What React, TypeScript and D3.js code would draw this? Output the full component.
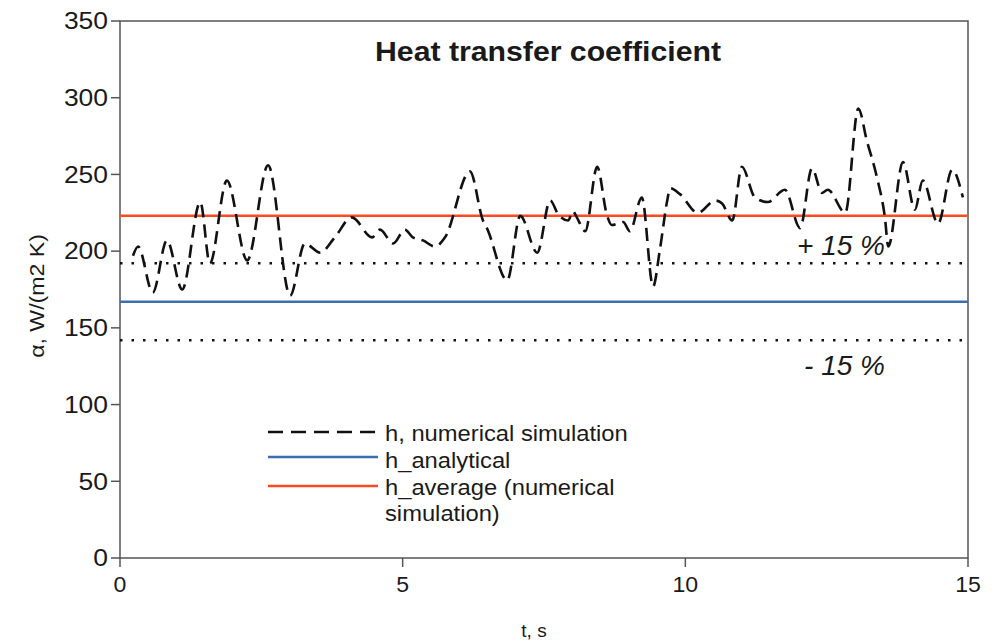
import React from "react";
import * as d3 from "d3";

const tValues = [0.23,0.32,0.58,0.83,1.10,1.42,1.59,1.89,2.25,2.62,3.01,3.27,3.54,3.80,4.10,4.46,4.60,4.83,5.04,5.18,5.36,5.57,5.75,6.19,6.42,6.49,6.85,7.08,7.38,7.61,7.75,7.93,8.01,8.08,8.23,8.44,8.61,8.70,8.90,9.02,9.23,9.43,9.55,9.68,9.73,9.91,10.22,10.53,10.65,10.83,11.00,11.23,11.46,11.76,12.03,12.24,12.42,12.52,12.83,13.06,13.21,13.39,13.53,13.59,13.85,14.06,14.20,14.47,14.72,14.91];
const hNumerical = [197,203,173,207,175,232,192,246,194,256,171,205,199,209,222,209,214,205,214,209,207,203,209,252,220,215,181,223,199,233,224,220,226,222,213,255,224,217,219,213,235,177,201,233,241,237,225,233,231,220,255,235,232,240,215,254,238,240,225,293,272,248,222,203,258,227,246,218,253,235];
const hAnalytical = 167;
const hAverage = 223;
const tolerance = 0.15;
const xTicks = [0, 5, 10, 15];
const yTicks = [0, 50, 100, 150, 200, 250, 300, 350];
const legendLabels = ["h, numerical simulation", "h_analytical", "h_average (numerical", "simulation)"];
const tolLabels = ["+ 15 %", "- 15 %"];

const FONT = "'Liberation Sans', Arial, sans-serif";
const RED = "#ff4a1f";
const BLUE = "#3d6eb0";
const AXIS = "#555";

function T(props: {
  x: number; y: number; sx?: number; size: number; anchor?: string; dy?: string;
  weight?: string; italic?: boolean; rotate?: number; children: React.ReactNode;
}) {
  const { x, y, sx = 1, size, anchor = "start", dy, weight, italic, rotate = 0, children } = props;
  return (
    <text
      transform={`translate(${x},${y}) rotate(${rotate}) scale(${sx},1)`}
      textAnchor={anchor}
      dy={dy}
      fontSize={size}
      fontWeight={weight}
      fontStyle={italic ? "italic" : undefined}
      fill="#1a1a1a"
    >
      {children}
    </text>
  );
}

export default function App() {
  const x = d3.scaleLinear().domain([0, 15]).range([120, 968]);
  const y = d3.scaleLinear().domain([0, 350]).range([558, 21]);
  const pts = tValues.map((t, i) => [t, hNumerical[i]] as [number, number]);
  const line = d3
    .line<[number, number]>()
    .x((d) => x(d[0]))
    .y((d) => y(d[1]))
    .curve(d3.curveMonotoneX);
  const upper = hAnalytical * (1 + tolerance);
  const lower = hAnalytical * (1 - tolerance);
  const [x0, x1] = x.range();
  const [yb, yt] = y.range();

  return (
    <svg width={992} height={640} style={{ position: "absolute", left: 0, top: 0, background: "#fff" }} fontFamily={FONT}>
      <rect x={0} y={0} width={992} height={640} fill="#fff" />
      <rect x={x0} y={yt} width={x1 - x0} height={yb - yt} fill="none" stroke={AXIS} strokeWidth={1.5} />
      {yTicks.map((v) => (
        <g key={"y" + v}>
          <line x1={x0 - 9} x2={x0} y1={y(v)} y2={y(v)} stroke={AXIS} strokeWidth={1.5} />
          <T x={x0 - 12} y={y(v)} dy="0.36em" anchor="end" size={23} sx={1.15}>{v}</T>
        </g>
      ))}
      {xTicks.map((v) => (
        <g key={"x" + v}>
          <line x1={x(v)} x2={x(v)} y1={yb} y2={yb + 9} stroke={AXIS} strokeWidth={1.5} />
          <T x={x(v)} y={yb + 34} anchor="middle" size={22} sx={1.05}>{v}</T>
        </g>
      ))}
      <T x={534} y={637} anchor="middle" size={19}>t, s</T>
      <T x={44} y={296} anchor="middle" size={21} sx={1.1} rotate={-90}>α, W/(m2 K)</T>
      <T x={548} y={61} anchor="middle" size={28} sx={1.08} weight="bold">Heat transfer coefficient</T>
      <line x1={x0} x2={x1} y1={y(upper)} y2={y(upper)} stroke="#111" strokeWidth={2.5} strokeDasharray="2.5,9" />
      <line x1={x0} x2={x1} y1={y(lower)} y2={y(lower)} stroke="#111" strokeWidth={2.5} strokeDasharray="2.5,9" />
      <line x1={x0} x2={x1} y1={y(hAnalytical)} y2={y(hAnalytical)} stroke={BLUE} strokeWidth={2.5} />
      <line x1={x0} x2={x1} y1={y(hAverage)} y2={y(hAverage)} stroke={RED} strokeWidth={2.5} />
      <path d={line(pts) || ""} fill="none" stroke="#111" strokeWidth={2.6} strokeDasharray="13,7" />
      <T x={885} y={y(upper) - 8} anchor="end" size={28} italic>{tolLabels[0]}</T>
      <T x={885} y={y(lower) + 35} anchor="end" size={28} italic>{tolLabels[1]}</T>
      <line x1={268} x2={378} y1={432} y2={432} stroke="#111" strokeWidth={2.6} strokeDasharray="15,8" />
      <line x1={268} x2={378} y1={457} y2={457} stroke={BLUE} strokeWidth={2.5} />
      <line x1={268} x2={378} y1={486} y2={486} stroke={RED} strokeWidth={2.5} />
      <T x={385} y={433} dy="0.35em" size={22} sx={1.08}>{legendLabels[0]}</T>
      <T x={385} y={460} dy="0.35em" size={22} sx={1.08}>{legendLabels[1]}</T>
      <T x={385} y={487} dy="0.35em" size={22} sx={1.08}>{legendLabels[2]}</T>
      <T x={385} y={513} dy="0.35em" size={22} sx={1.08}>{legendLabels[3]}</T>
    </svg>
  );
}
